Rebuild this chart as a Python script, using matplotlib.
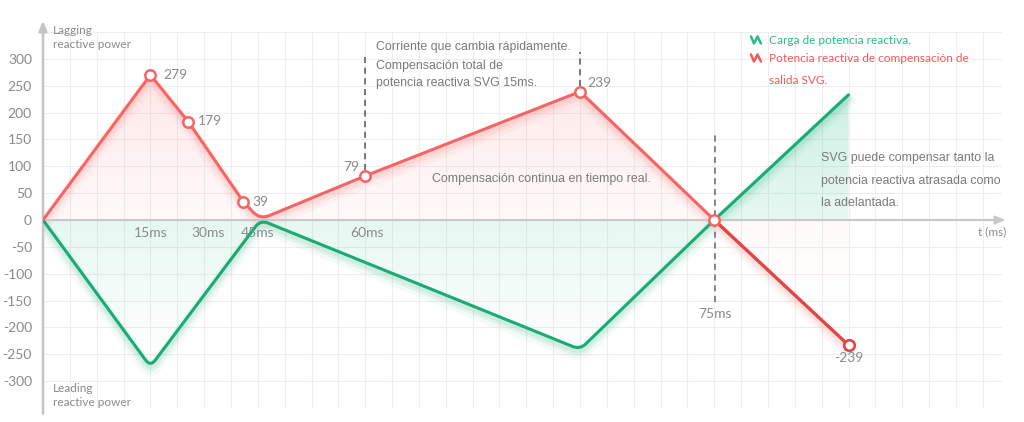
import numpy as np
import matplotlib
matplotlib.use('Agg')
import matplotlib.pyplot as plt
from matplotlib.path import Path
from matplotlib.patches import PathPatch
import matplotlib.transforms as mtransforms
from matplotlib.lines import Line2D

# ---------------- data ----------------
red_t = [0, 4, 5.41, 7.46, 8.08, 12, 20, 25, 30]
red_q = [0, 270, 183, 34, 1, 82, 239, 0, -233]
red_marker_idx = [1, 2, 3, 5, 6, 7, 8]
red_label_idx = [1, 2, 3, 5, 6, 8]
red_labels = ['279', '179', '39', '79', '239', '-239']
red_label_offsets = [(13, 0), (10, 1), (9, 0), (-6, 9), (7, 9), (0, -13)]
red_label_ha = ['left', 'left', 'left', 'right', 'left', 'center']

green_t = [0, 4, 8.1, 20, 25, 30]
green_q = [0, -273, 0, -241, 0, 233]

y_ticks = list(range(-300, 301, 50))
x_tick_pos = [4, 6.15, 8.0, 12.07]
x_tick_labels = ['15ms', '30ms', '45ms', '60ms']
x_tick_pos_low = [25.03]
x_tick_labels_low = ['75ms']

RED = '#f86464'
RED_DARK = '#e04646'
GREEN = '#18ab74'
GRAY = '#8a8a8a'
TXT = '#7a7a7a'

W, H = 1024, 422
fig = plt.figure(figsize=(W / 100, H / 100), dpi=100)
fig.patch.set_facecolor('white')
ax = fig.add_axes([43 / W, 14 / H, 959 / W, 376 / H])
XMAX = 959 / 26.85
ax.set_xlim(0, XMAX)
ax.set_ylim(-350, 350)
for s in ax.spines.values():
    s.set_visible(False)
ax.set_xticks(range(0, 36))
ax.set_xticklabels([])
ax.set_yticks(range(-350, 351, 50))
ax.set_yticklabels(['' if v not in y_ticks else str(v) for v in range(-350, 351, 50)])
ax.tick_params(length=0, pad=8, labelsize=10, labelcolor=GRAY)
for lab in ax.get_yticklabels():
    lab.set_fontfamily('Lato')
ax.grid(True, color='#eeeeee', lw=0.8, zorder=0)
ax.set_axisbelow(True)


def rounded(xs, ys, radii):
    pts = np.column_stack([xs, ys]).astype(float)
    disp = ax.transData.transform(pts)
    verts = [tuple(pts[0])]
    codes = [Path.MOVETO]
    for i in range(1, len(pts) - 1):
        r = radii[i]
        P = pts[i]
        if r <= 0:
            verts.append(tuple(P)); codes.append(Path.LINETO)
            continue
        A, B = pts[i - 1], pts[i + 1]
        la = np.hypot(*(disp[i - 1] - disp[i]))
        lb = np.hypot(*(disp[i + 1] - disp[i]))
        ta = min(r / la, 0.45)
        tb = min(r / lb, 0.45)
        C1 = P + (A - P) * ta
        C2 = P + (B - P) * tb
        verts += [tuple(C1), tuple(P), tuple(C2)]
        codes += [Path.LINETO, Path.CURVE3, Path.CURVE3]
    verts.append(tuple(pts[-1]))
    codes.append(Path.LINETO)
    return verts, codes


red_r = [0 if i in red_marker_idx else 10 for i in range(len(red_t))]
green_r = [8] * len(green_t)
rv, rc = rounded(red_t, red_q, red_r)
gv, gc = rounded(green_t, green_q, green_r)


def gradient_fill(verts, codes, color, amax, vmin, vmax, z, power):
    cv = verts + [(verts[-1][0], 0), (verts[0][0], 0), (verts[0][0], 0)]
    cc = codes + [Path.LINETO, Path.LINETO, Path.CLOSEPOLY]
    patch = PathPatch(Path(cv, cc), transform=ax.transData, facecolor='none', edgecolor='none')
    ax.add_patch(patch)
    n = 256
    rgba = np.zeros((n, 1, 4))
    rgba[..., :3] = matplotlib.colors.to_rgb(color)
    rgba[..., 3] = (amax * np.linspace(0, 1, n) ** power).reshape(-1, 1)
    im = ax.imshow(rgba, extent=[verts[0][0], verts[-1][0], vmin, vmax], origin='lower',
                   aspect='auto', interpolation='bilinear', zorder=z)
    im.set_clip_path(patch)


gradient_fill(gv, gc, '#1dbb85', 0.22, min(green_q), max(green_q), 1, 1.1)
gradient_fill(rv, rc, '#ff6b6b', 0.17, min(red_q), max(red_q), 1.5, 1.8)
ax.set_xlim(0, XMAX)
ax.set_ylim(-350, 350)

# glow / shadow
for lw, a, dy in [(10, 0.05, -4), (6, 0.08, -3), (4, 0.08, -2)]:
    tr = ax.transData + mtransforms.ScaledTranslation(0, dy / 72, fig.dpi_scale_trans)
    ax.add_patch(PathPatch(Path(gv, gc), transform=tr, fill=False, edgecolor=GREEN, lw=lw, alpha=a,
                           capstyle='round', joinstyle='round', zorder=2))
    ax.add_patch(PathPatch(Path(rv, rc), transform=tr, fill=False, edgecolor=RED, lw=lw, alpha=a,
                           capstyle='round', joinstyle='round', zorder=2))

# axes lines with arrows
ax.annotate('', xy=(0, 376), xytext=(0, -366), xycoords='data',
            arrowprops=dict(arrowstyle='-|>,head_width=0.25,head_length=0.6', color='#c4c4c4', lw=1.8),
            annotation_clip=False, zorder=3)
ax.annotate('', xy=(35.95, 0), xytext=(0, 0), xycoords='data',
            arrowprops=dict(arrowstyle='-|>,head_width=0.25,head_length=0.6', color='#c8c8c8', lw=1.5),
            annotation_clip=False, zorder=3)

# dashed guide lines
ax.plot([12, 12], [93, 311], ls=(0, (4, 3)), color='#555555', lw=1.1, zorder=3)
ax.plot([20, 20], [250, 313], ls=(0, (4, 3)), color='#555555', lw=1.1, zorder=3)
ax.plot([25.03, 25.03], [-153, 158], ls=(0, (4, 3)), color='#666666', lw=1.1, zorder=3)

# main lines
ax.add_patch(PathPatch(Path(gv, gc), fill=False, edgecolor=GREEN, lw=2.2,
                       capstyle='round', joinstyle='round', zorder=4))
ax.add_patch(PathPatch(Path(rv, rc), fill=False, edgecolor=RED, lw=2.2,
                       capstyle='round', joinstyle='round', zorder=4.5))
ax.plot(red_t[-2:], red_q[-2:], color=RED_DARK, lw=2.2, solid_capstyle='round', zorder=4.6)

mx = [red_t[i] for i in red_marker_idx]
my = [red_q[i] for i in red_marker_idx]
ax.plot(mx, my, ls='none', marker='o', ms=7.5, mfc='white', mec=RED, mew=1.8, zorder=5)
ax.plot([red_t[-1]], [red_q[-1]], ls='none', marker='o', ms=7.5, mfc='white', mec=RED_DARK, mew=1.8, zorder=5.1)

for idx, lab, off, ha in zip(red_label_idx, red_labels, red_label_offsets, red_label_ha):
    ax.annotate(lab, (red_t[idx], red_q[idx]), xytext=off, textcoords='offset pixels',
                ha=ha, va='center', fontsize=10, color=GRAY, family='Lato', zorder=6)

for p, lab in zip(x_tick_pos, x_tick_labels):
    ax.annotate(lab, (p, 0), xytext=(0, -13), textcoords='offset pixels', ha='center', va='center',
                fontsize=10, color=GRAY, family='Lato', zorder=6)
for p, lab in zip(x_tick_pos_low, x_tick_labels_low):
    ax.annotate(lab, (p, 0), xytext=(0, -94), textcoords='offset pixels', ha='center', va='center',
                fontsize=10, color=GRAY, family='Lato', zorder=6)


def ftext(x, y, s, **kw):
    fig.text(x / W, 1 - y / H, s, va='center', **kw)


ftext(1006, 232, 't (ms)', ha='right', fontsize=8.5, color=GRAY, family='Lato')
ftext(53, 31, 'Lagging', ha='left', fontsize=8.5, color=GRAY, family='Lato')
ftext(53, 45, 'reactive power', ha='left', fontsize=8.5, color=GRAY, family='Lato')
ftext(53, 389, 'Leading', ha='left', fontsize=8.5, color=GRAY, family='Lato')
ftext(53, 403, 'reactive power', ha='left', fontsize=8.5, color=GRAY, family='Lato')

ann = dict(ha='left', fontsize=8.9, color=TXT, family='Liberation Sans')
ftext(376, 47, 'Corriente que cambia rápidamente.', **ann)
ftext(376, 65.5, 'Compensación total de', **ann)
ftext(376, 83, 'potencia reactiva SVG 15ms.', **ann)
ftext(432, 179, 'Compensación continua en tiempo real.', **ann)
ftext(821, 158, 'SVG puede compensar tanto la', **ann)
ftext(821, 181, 'potencia reactiva atrasada como', **ann)
ftext(821, 203, 'la adelantada.', **ann)

# legend
LG = '#1ec08a'
LR = '#f25a5a'
for yy, col in [(40, LG), (58, LR)]:
    xs = np.array([751, 754, 757.5, 761]) / W
    ys = 1 - (yy + np.array([-3.5, 3.5, -3.5, 3.5])) / H
    fig.add_artist(Line2D(xs, ys, color=col, lw=1.8, solid_joinstyle='round', solid_capstyle='round'))
ftext(769, 40, 'Carga de potencia reactiva.', ha='left', fontsize=8.6, color=LG, family='Lato')
ftext(769, 58, 'Potencia reactiva de compensación de', ha='left', fontsize=8.6, color=LR, family='Lato')
ftext(769, 80, 'salida SVG.', ha='left', fontsize=8.6, color=LR, family='Lato')

fig.savefig('out.png', dpi=100, facecolor='white')
